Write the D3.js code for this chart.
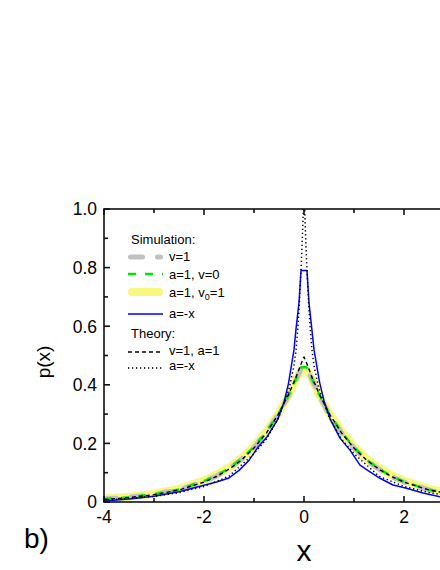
<!DOCTYPE html>
<html><head><meta charset="utf-8">
<script src="https://cdn.jsdelivr.net/npm/d3@7"></script>
<style>body{margin:0;background:#fff}svg{display:block}text{font-family:"Liberation Sans",Arial,sans-serif}</style>
</head><body>
<svg id="c" width="440" height="570"></svg>
<script>
// ---- data ----
const simX      = [-4,-3.5,-3,-2.5,-2,-1.75,-1.5,-1.25,-1,-0.75,-0.5,-0.3,-0.15,-0.05,0.05,0.15,0.3,0.5,0.75,1,1.25,1.5,1.75,2,2.5,3,3.5,4];
const simV1     = [0.010,0.016,0.026,0.042,0.070,0.089,0.114,0.146,0.186,0.238,0.302,0.366,0.420,0.458,0.458,0.422,0.366,0.300,0.236,0.184,0.142,0.112,0.087,0.068,0.041,0.025,0.015,0.009];
const simA1V0   = [0.010,0.016,0.026,0.043,0.071,0.090,0.115,0.147,0.188,0.240,0.304,0.368,0.424,0.460,0.460,0.424,0.368,0.302,0.238,0.186,0.144,0.113,0.088,0.069,0.042,0.026,0.016,0.010];
const simA1V01  = [0.012,0.018,0.028,0.045,0.074,0.093,0.118,0.150,0.190,0.242,0.305,0.368,0.422,0.450,0.450,0.422,0.368,0.305,0.242,0.190,0.148,0.117,0.092,0.073,0.045,0.028,0.018,0.012];
const blueX     = [-4,-3.5,-3,-2.5,-2,-1.75,-1.5,-1.3,-1.1,-0.93,-0.75,-0.53,-0.4,-0.31,-0.2,-0.16,-0.1,-0.06,0.06,0.1,0.16,0.2,0.31,0.4,0.53,0.72,0.92,1.12,1.32,1.52,1.78,2.05,2.38,2.72,3,3.5,4];
const simAmx    = [0.003,0.010,0.020,0.035,0.057,0.068,0.082,0.108,0.142,0.185,0.220,0.280,0.340,0.405,0.520,0.590,0.680,0.790,0.790,0.680,0.585,0.520,0.410,0.345,0.280,0.218,0.177,0.126,0.103,0.081,0.058,0.047,0.031,0.018,0.014,0.008,0.004];
const thX       = [-4,-3.5,-3,-2.5,-2,-1.75,-1.5,-1.25,-1,-0.75,-0.5,-0.3,-0.15,-0.05,0,0.05,0.15,0.3,0.5,0.75,1,1.25,1.5,1.75,2,2.5,3,3.5,4];
const thV1A1    = [0.009,0.015,0.025,0.041,0.068,0.087,0.112,0.143,0.184,0.236,0.303,0.370,0.430,0.475,0.495,0.475,0.430,0.370,0.303,0.236,0.184,0.143,0.112,0.087,0.068,0.041,0.025,0.015,0.009];
const dotX      = [-4,-3,-2.5,-2,-1.5,-1,-0.75,-0.5,-0.3,-0.2,-0.155,-0.125,-0.09,-0.06,-0.04,-0.02,-0.005,0.005,0.02,0.04,0.06,0.09,0.125,0.155,0.2,0.3,0.5,0.75,1,1.5,2,2.5,3,4];
const thAmx     = [0.006,0.019,0.032,0.053,0.088,0.165,0.215,0.290,0.385,0.465,0.525,0.590,0.690,0.790,0.870,0.960,1.050,1.050,0.960,0.870,0.790,0.690,0.590,0.525,0.465,0.385,0.290,0.215,0.165,0.088,0.053,0.032,0.019,0.006];
const xTicks    = [-4,-2,0,2,4];
const xTickLab  = ["-4","-2","0","2",""];
const xMinor    = [-3,-1,1,3];
const yTicks    = [0,0.2,0.4,0.6,0.8,1.0];
const yTickLab  = ["0","0.2","0.4","0.6","0.8","1.0"];
const yMinor    = [0.1,0.3,0.5,0.7,0.9];

// ---- layout ----
const svg = d3.select("#c");
const L=104, R=504, T=209, B=502;
const x = d3.scaleLinear().domain([-4,4]).range([L,R]);
const y = d3.scaleLinear().domain([0,1]).range([B,T]);

svg.append("clipPath").attr("id","clip").append("rect")
  .attr("x",L).attr("y",T).attr("width",R-L).attr("height",B-T);

const g = svg.append("g").attr("clip-path","url(#clip)");
const line = d3.line().x(d=>x(d[0])).y(d=>y(d[1]));
const zip = (a,b)=>a.map((v,i)=>[v,b[i]]);

const series = [
  {xs:simX, ys:simA1V01, stroke:"#f8f880", w:8, dash:null, cap:"round"},
  {xs:simX, ys:simV1,    stroke:"#c0c0c0", w:5, dash:"12,15", cap:"round"},
  {xs:simX, ys:simA1V0,  stroke:"#00e600", w:2.5, dash:"8,9", cap:"butt"},
  {xs:blueX, ys:simAmx,  stroke:"#0000ff", w:1.5, dash:null, cap:"butt"},
  {xs:thX, ys:thV1A1,    stroke:"#000", w:1.4, dash:"4,3", cap:"butt"},
  {xs:dotX, ys:thAmx,    stroke:"#000", w:1.5, dash:"1.3,2.7", cap:"butt"}
];
series.forEach(s=>{
  g.append("path").attr("d",line(zip(s.xs,s.ys))).attr("fill","none")
   .attr("stroke",s.stroke).attr("stroke-width",s.w)
   .attr("stroke-dasharray",s.dash).attr("stroke-linecap",s.cap)
   .attr("stroke-linejoin","round");
});

// ---- axes ----
const ax = svg.append("g").attr("stroke","#111").attr("stroke-width",1.6);
ax.append("rect").attr("x",L).attr("y",T).attr("width",R-L).attr("height",B-T).attr("fill","none");
xTicks.forEach(t=>{
  ax.append("line").attr("x1",x(t)).attr("x2",x(t)).attr("y1",B).attr("y2",B-6);
  ax.append("line").attr("x1",x(t)).attr("x2",x(t)).attr("y1",T).attr("y2",T+6);
});
xMinor.forEach(t=>{
  ax.append("line").attr("x1",x(t)).attr("x2",x(t)).attr("y1",B).attr("y2",B-4);
  ax.append("line").attr("x1",x(t)).attr("x2",x(t)).attr("y1",T).attr("y2",T+4);
});
yTicks.forEach(t=>{
  ax.append("line").attr("x1",L).attr("x2",L+6).attr("y1",y(t)).attr("y2",y(t));
});
yMinor.forEach(t=>{
  ax.append("line").attr("x1",L).attr("x2",L+4).attr("y1",y(t)).attr("y2",y(t));
});
xTicks.forEach((t,i)=>{
  if(!xTickLab[i]) return;
  svg.append("text").attr("x",x(t)).attr("y",523).attr("text-anchor","middle")
    .attr("font-size",17.5).text(xTickLab[i]);
});
yTicks.forEach((t,i)=>{
  svg.append("text").attr("x",97).attr("y",y(t)).attr("dy","0.36em").attr("text-anchor","end")
    .attr("font-size",17.5).text(yTickLab[i]);
});
svg.append("text").attr("transform","translate(50,362) rotate(-90)").attr("text-anchor","middle")
  .attr("font-size",19).text("p(x)");
svg.append("text").attr("x",304).attr("y",561).attr("text-anchor","middle").attr("font-size",30).text("x");
svg.append("text").attr("x",24).attr("y",548).attr("font-size",28).text("b)");

// ---- legend ----
const lg = svg.append("g").attr("font-size",13);
lg.append("text").attr("x",131).attr("y",244).text("Simulation:");
lg.append("text").attr("x",131).attr("y",338).text("Theory:");
const items = [
  {s:1, ly:257, ty:261, lab:"v=1"},
  {s:2, ly:274, ty:279, lab:"a=1, v=0"},
  {s:0, ly:292, ty:297, lab:"sub"},
  {s:3, ly:314, ty:318, lab:"a=-x"},
  {s:4, ly:352, ty:355, lab:"v=1, a=1"},
  {s:5, ly:368, ty:370, lab:"a=-x"}
];
items.forEach(it=>{
  const s = series[it.s];
  const x1 = s.cap==="round" ? 128+s.w/2 : 128;
  const x2 = s.cap==="round" ? 163-s.w/2 : 163;
  lg.append("line").attr("x1",x1).attr("x2",x2).attr("y1",it.ly).attr("y2",it.ly)
    .attr("stroke",s.stroke).attr("stroke-width",s.w).attr("stroke-dasharray",s.dash)
    .attr("stroke-linecap",s.cap);
  const t = lg.append("text").attr("x",169).attr("y",it.ty);
  if(it.lab==="sub"){
    t.append("tspan").text("a=1, v");
    t.append("tspan").attr("font-size",9).attr("dy",3).text("0");
    t.append("tspan").attr("dy",-3).text("=1");
  } else t.text(it.lab);
});
</script>
</body></html>
